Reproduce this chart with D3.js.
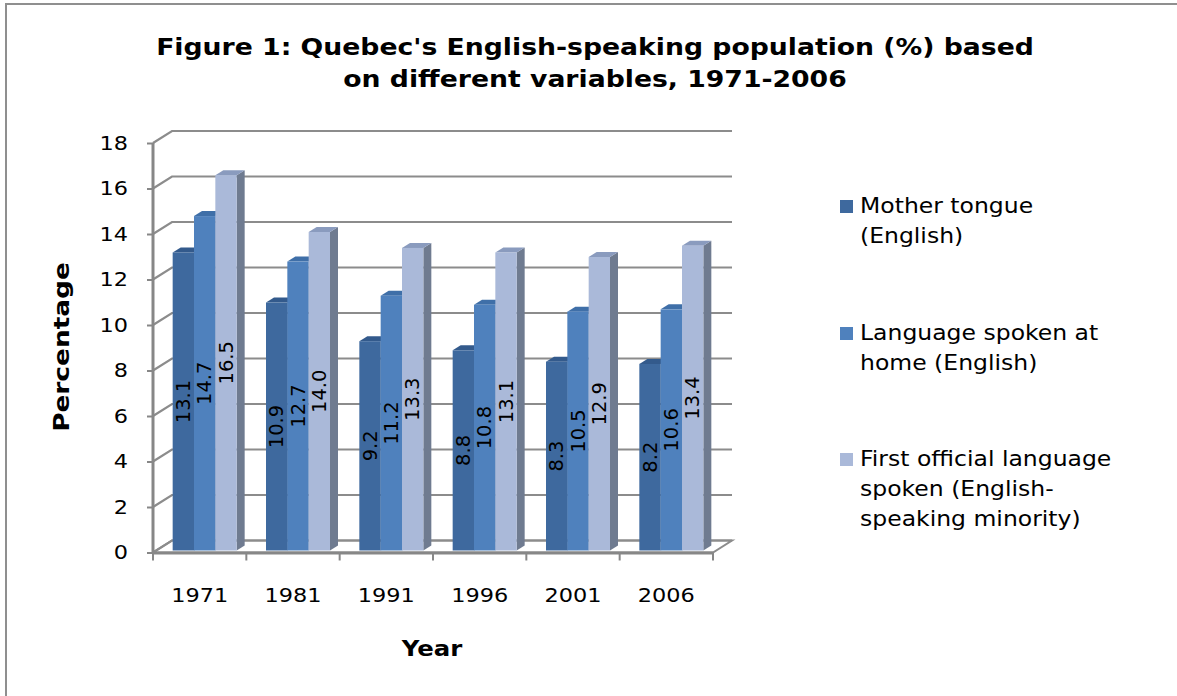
<!DOCTYPE html>
<html>
<head>
<meta charset="utf-8">
<script src="https://cdnjs.cloudflare.com/ajax/libs/d3/7.8.5/d3.min.js"></script>
<style>
  html, body { margin: 0; padding: 0; background: #fff; }
  svg { display: block; }
  text { font-family: "DejaVu Sans", Verdana, sans-serif; fill: #000; }
</style>
</head>
<body>
<svg id="chart" width="1177" height="696"></svg>
<script>
// ---------- data ----------
const categories = ["1971", "1981", "1991", "1996", "2001", "2006"];
const seriesNames = [
  ["Mother tongue", "(English)"],
  ["Language spoken at", "home (English)"],
  ["First official language", "spoken (English-", "speaking minority)"]
];
const motherTongue = [13.1, 10.9, 9.2, 8.8, 8.3, 8.2];
const homeLanguage = [14.7, 12.7, 11.2, 10.8, 10.5, 10.6];
const firstOfficial = [16.5, 14.0, 13.3, 13.1, 12.9, 13.4];
const yTicks = [0, 2, 4, 6, 8, 10, 12, 14, 16, 18];
const titleLines = ["Figure 1: Quebec's English-speaking population (%) based",
                    "on different variables, 1971-2006"];
const xTitle = "Year";
const yTitle = "Percentage";

const series = [motherTongue, homeLanguage, firstOfficial];

// ---------- styles ----------
const faceColors = [
  { front: "#3E699E", top: "#335A8C", side: "#2E5180" },
  { front: "#4F81BD", top: "#3F6FA8", side: "#3A659A" },
  { front: "#AAB9D9", top: "#8A9BBE", side: "#6F7B90" }
];
const gridColor = "#8C8C8C";
const axisColor = "#878787";
const stretch = 1.12;          // Verdana-like wide glyph emulation

const svg = d3.select("#chart");

// outer border
svg.append("rect")
  .attr("x", 6).attr("y", 4).attr("width", 1190).attr("height", 720)
  .attr("fill", "none").attr("stroke", "#8F8F8F").attr("stroke-width", 2);

// ---------- scales ----------
const plotLeft = 153, plotRight = 713;
const x0 = d3.scaleBand().domain(categories).range([plotLeft, plotRight]).paddingInner(0).paddingOuter(0);
const y = d3.scaleLinear().domain([0, 18]).range([552.5, 143]);
const wall = { dx: 19, dy: -12 };     // back wall depth offset
const barOff = { dx: 0, dy: -2 };     // bar front face offset
const barDepth = { dx: 8, dy: -5 };   // bar depth
const groupWidth = 64;
const x1 = d3.scaleBand().domain(d3.range(series.length)).range([0, groupWidth]);
const groupStart = c => x0(c) + (x0.bandwidth() - groupWidth) / 2 + 5;

// ---------- floor ----------
const g = svg.append("g");
g.append("path")
  .attr("d", `M${plotLeft},${y(0)} L${plotRight},${y(0)} L${plotRight + wall.dx},${y(0) + wall.dy} L${plotLeft + wall.dx},${y(0) + wall.dy} Z`)
  .attr("fill", "#fff").attr("stroke", gridColor).attr("stroke-width", 2);

// ---------- gridlines (back wall + left side wall) ----------
yTicks.forEach(t => {
  g.append("path")
    .attr("d", `M${plotLeft},${y(t)} L${plotLeft + wall.dx},${y(t) + wall.dy} L${plotRight + wall.dx},${y(t) + wall.dy}`)
    .attr("fill", "none").attr("stroke", gridColor).attr("stroke-width", 2.2);
});

// ---------- bars ----------
const barsG = svg.append("g");
categories.forEach((c, ci) => {
  series.forEach((s, si) => {
    const v = s[ci];
    const bx = groupStart(c) + x1(si) + barOff.dx;
    const bw = x1.bandwidth();
    const yt = y(v) + barOff.dy, yb = y(0) + barOff.dy;
    const col = faceColors[si];
    barsG.append("path")
      .attr("d", `M${bx + bw},${yt} L${bx + bw + barDepth.dx},${yt + barDepth.dy} L${bx + bw + barDepth.dx},${yb + barDepth.dy} L${bx + bw},${yb} Z`)
      .attr("fill", col.side);
    barsG.append("path")
      .attr("d", `M${bx},${yt} L${bx + barDepth.dx},${yt + barDepth.dy} L${bx + bw + barDepth.dx},${yt + barDepth.dy} L${bx + bw},${yt} Z`)
      .attr("fill", col.top);
    barsG.append("rect")
      .attr("x", bx).attr("y", yt).attr("width", bw).attr("height", yb - yt)
      .attr("fill", col.front);
  });
});

// data labels
categories.forEach((c, ci) => {
  series.forEach((s, si) => {
    const v = s[ci];
    const cx = groupStart(c) + x1(si) + x1.bandwidth() / 2 + barOff.dx;
    const cy = (y(v) + y(0)) / 2 + barOff.dy;
    barsG.append("text")
      .attr("transform", `translate(${cx},${cy}) rotate(-90)`)
      .attr("text-anchor", "middle").attr("dominant-baseline", "central")
      .style("font-size", "19.5px")
      .text(v.toFixed(1));
  });
});

// ---------- axes ----------
const yAxis = d3.axisLeft(y).tickValues(yTicks).tickSize(6).tickFormat(d3.format("d"));
const yAx = svg.append("g").attr("transform", `translate(${plotLeft},0)`).call(yAxis);
yAx.select(".domain").attr("stroke", axisColor).attr("stroke-width", 3).attr("d", `M0,${y(0)}V${y(18)}`);
yAx.selectAll(".tick line").attr("stroke", axisColor).attr("stroke-width", 2);
yAx.selectAll(".tick text")
  .attr("x", -25 / stretch).attr("transform", `scale(${stretch},1)`)
  .style("font-size", "20px").style("font-family", "DejaVu Sans, Verdana, sans-serif").attr("fill", "#000");

const xAxis = d3.axisBottom(x0).tickSize(0).tickPadding(35);
const xAx = svg.append("g").attr("transform", `translate(0,${y(0)})`).call(xAxis);
xAx.select(".domain").attr("stroke", axisColor).attr("stroke-width", 3);
xAx.selectAll(".tick text").attr("transform", `scale(${stretch},1)`)
  .style("font-size", "20px").style("font-family", "DejaVu Sans, Verdana, sans-serif").attr("fill", "#000");
const sepPositions = categories.map(c => x0(c)).concat([plotRight]);
xAx.selectAll(".sep").data(sepPositions).enter().append("line")
  .attr("x1", d => d).attr("x2", d => d).attr("y1", 0).attr("y2", 8)
  .attr("stroke", axisColor).attr("stroke-width", 2);

// ---------- titles ----------
svg.selectAll(".title").data(titleLines).enter().append("text")
  .attr("transform", (d, i) => `translate(595,${55 + i * 32}) scale(1.16,1)`)
  .attr("text-anchor", "middle")
  .style("font-size", "23px").style("font-weight", "bold")
  .text(d => d);

svg.append("text").attr("transform", "translate(432,656) scale(1.11,1)").attr("text-anchor", "middle")
  .style("font-size", "22px").style("font-weight", "bold").text(xTitle);

svg.append("text").attr("transform", "translate(69,347) rotate(-90) scale(1.2,1)").attr("text-anchor", "middle")
  .style("font-size", "22px").style("font-weight", "bold").text(yTitle);

// ---------- legend ----------
const legendY = [200, 327, 453];
const legend = svg.append("g");
seriesNames.forEach((lines, i) => {
  legend.append("rect").attr("x", 840).attr("y", legendY[i]).attr("width", 13).attr("height", 13)
    .attr("fill", faceColors[i].front);
  lines.forEach((ln, j) => {
    legend.append("text").attr("transform", `translate(860,${legendY[i] + 13 + j * 30}) scale(${stretch},1)`)
      .style("font-size", "21px").text(ln);
  });
});
</script>
</body>
</html>
